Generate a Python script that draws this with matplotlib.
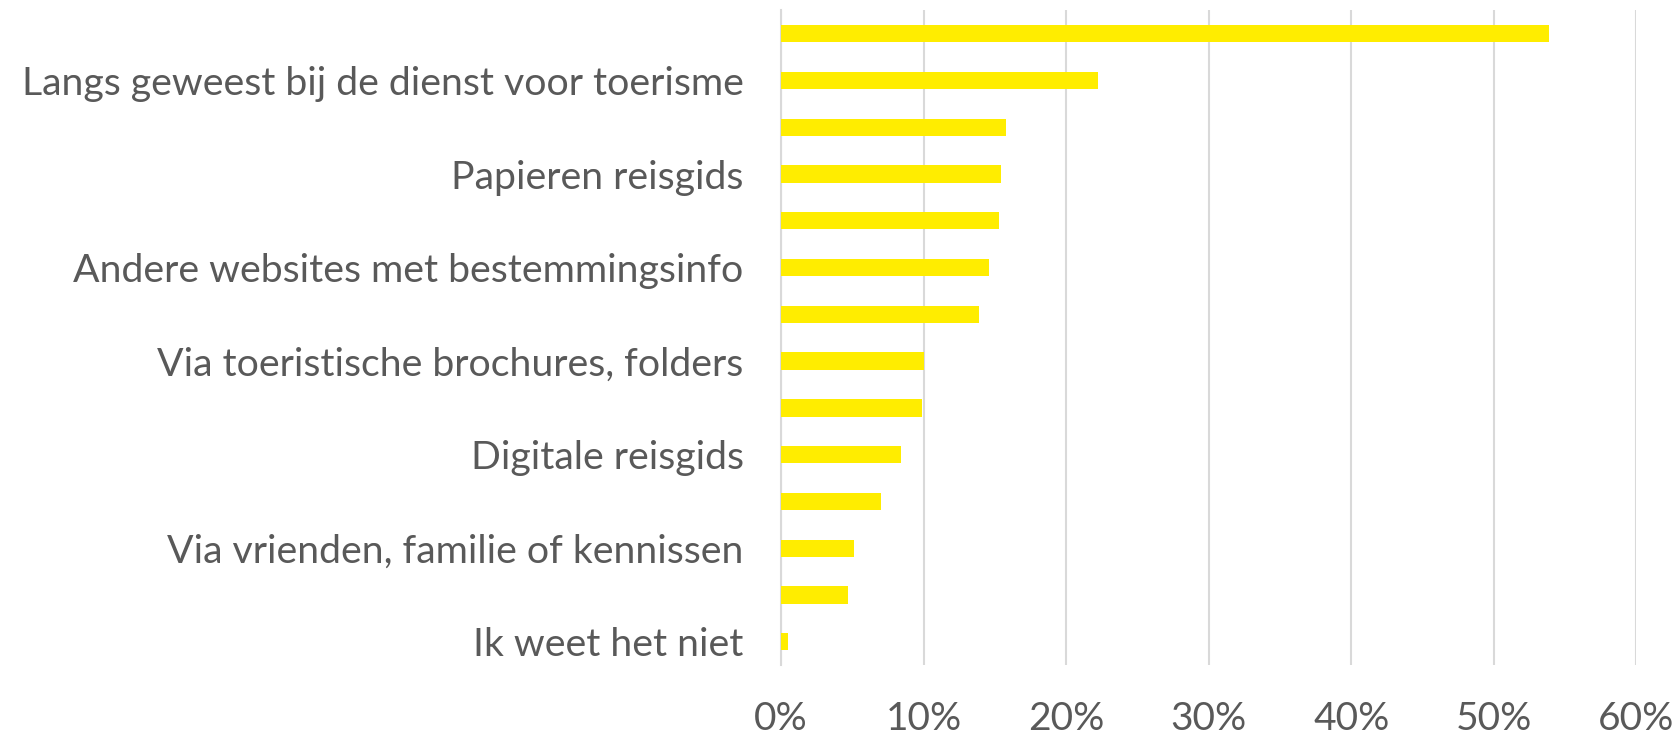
import matplotlib
matplotlib.use("Agg")
import matplotlib.pyplot as plt
from matplotlib.ticker import PercentFormatter

# Information sources, top to bottom; only every other category carries a visible label
categories = [
    "",
    "Langs geweest bij de dienst voor toerisme",
    "",
    "Papieren reisgids",
    "",
    "Andere websites met bestemmingsinfo",
    "",
    "Via toeristische brochures, folders",
    "",
    "Digitale reisgids",
    "",
    "Via vrienden, familie of kennissen",
    "",
    "Ik weet het niet",
]
shares = [53.9, 22.2, 15.8, 15.4, 15.3, 14.6, 13.9, 10.0, 9.9, 8.4, 7.0, 5.1, 4.7, 0.5]
x_ticks = [0, 10, 20, 30, 40, 50, 60]

text_color = "#595959"
bar_color = "#FFED00"
grid_color = "#D9D9D9"

plt.rcParams["font.family"] = ["Lato", "DejaVu Sans"]

fig = plt.figure(figsize=(16.8, 7.39), dpi=100)
ax = fig.add_axes([0.465, 0.100, 0.509, 0.886])

positions = list(range(len(categories)))
ax.barh(positions, shares, height=0.37, color=bar_color, zorder=3)

ax.set_ylim(len(categories) - 0.5, -0.5)
ax.set_xlim(0, 60)
ax.set_xticks(x_ticks)
ax.xaxis.set_major_formatter(PercentFormatter(decimals=0))
ax.set_yticks(positions)
ax.set_yticklabels(categories)

ax.grid(axis="x", color=grid_color, linewidth=1.5, zorder=0)
ax.set_axisbelow(True)
for side in ("top", "right", "bottom"):
    ax.spines[side].set_visible(False)
ax.spines["left"].set_color(grid_color)
ax.spines["left"].set_linewidth(1.5)

ax.tick_params(axis="y", length=0, pad=27, labelsize=28.3, labelcolor=text_color)
ax.tick_params(axis="x", length=0, pad=26, labelsize=28, labelcolor=text_color)

fig.savefig("out.png", dpi=100, facecolor="white")
